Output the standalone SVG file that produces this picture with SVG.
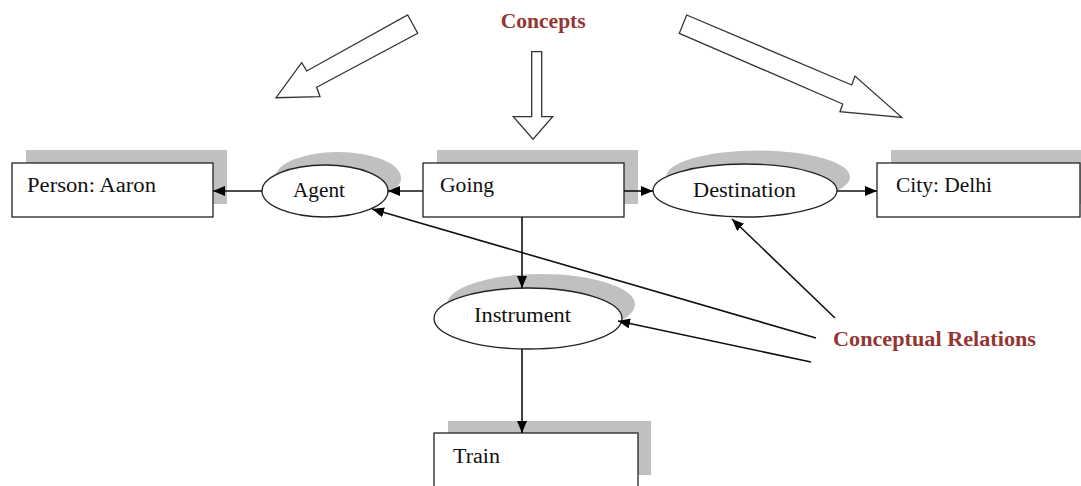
<svg xmlns="http://www.w3.org/2000/svg" width="1081" height="486" viewBox="0 0 1081 486">
<style>
.box{fill:#fff;stroke:#222;stroke-width:1.3}
.shadow{fill:#c0c0c0;stroke:none}
.lbl{font-family:"Liberation Serif","Times New Roman",serif;font-size:20px;fill:#111}
.title{font-family:"Liberation Serif","Times New Roman",serif;font-size:20px;font-weight:bold;fill:#943634}
.edge{stroke:#111;stroke-width:1.6;fill:none}
.block{fill:#fff;stroke:#333;stroke-width:1.3;stroke-linejoin:miter}
</style>
<defs>
<marker id="ah" markerUnits="userSpaceOnUse" markerWidth="12" markerHeight="10" refX="12" refY="5" orient="auto">
<path d="M0,0 L12,5 L0,10 z" fill="#000"/>
</marker>
</defs>
<rect width="1081" height="486" fill="#fff"/>

<g id="block-arrows">
<polygon class="block" points="407.7,15 417.7,33.3 316.7,87.3 320,96.7 276,97.7 301.7,62.7 306.7,71"/>
<polygon class="block" points="531.7,51.7 541.7,51.7 541.7,116.7 552.7,116.7 533,139.3 513.3,116.7 531.7,116.7"/>
<polygon class="block" points="686.7,15 851.7,85 855,76 901.7,117.3 840,111.7 842.7,104 679.3,33.3"/>
</g>

<g id="concepts-label"><text class="title" x="500.7" y="28" textLength="85" lengthAdjust="spacingAndGlyphs">Concepts</text></g>
<g id="relations-label"><text class="title" x="833" y="346" textLength="203" lengthAdjust="spacingAndGlyphs">Conceptual Relations</text></g>

<g id="person">
<rect class="shadow" x="26" y="150" width="201" height="54"/>
<rect class="box" x="12" y="163" width="201" height="54"/>
<text class="lbl" x="27" y="192" textLength="129" lengthAdjust="spacingAndGlyphs">Person: Aaron</text>
</g>

<g id="agent">
<ellipse class="shadow" cx="338" cy="178" rx="63" ry="26"/>
<ellipse class="box" cx="325" cy="191" rx="63" ry="26"/>
<text class="lbl" x="293" y="197" textLength="52" lengthAdjust="spacingAndGlyphs">Agent</text>
</g>

<g id="going">
<rect class="shadow" x="437" y="150" width="201" height="54"/>
<rect class="box" x="423" y="163" width="201" height="54"/>
<text class="lbl" x="440" y="192" textLength="54" lengthAdjust="spacingAndGlyphs">Going</text>
</g>

<g id="destination">
<ellipse class="shadow" cx="758" cy="177" rx="92" ry="26.5"/>
<ellipse class="box" cx="745" cy="190.5" rx="92" ry="26.5"/>
<text class="lbl" x="693" y="197" textLength="103" lengthAdjust="spacingAndGlyphs">Destination</text>
</g>

<g id="city">
<rect class="shadow" x="891" y="150" width="201" height="54"/>
<rect class="box" x="877" y="163" width="203" height="54"/>
<text class="lbl" x="896" y="192" textLength="96" lengthAdjust="spacingAndGlyphs">City: Delhi</text>
</g>

<g id="instrument">
<ellipse class="shadow" cx="541" cy="304.5" rx="94" ry="30.5"/>
<ellipse class="box" cx="528" cy="318.5" rx="94" ry="30.5"/>
<text class="lbl" x="474" y="322" textLength="97" lengthAdjust="spacingAndGlyphs">Instrument</text>
</g>

<g id="train">
<rect class="shadow" x="448" y="421" width="203" height="54"/>
<rect class="box" x="434" y="433" width="204" height="54"/>
<text class="lbl" x="453" y="463" textLength="47" lengthAdjust="spacingAndGlyphs">Train</text>
</g>

<g id="connectors">
<path class="edge" d="M262,191 L213,191" marker-end="url(#ah)"/>
<path class="edge" d="M423,191 L388,191" marker-end="url(#ah)"/>
<path class="edge" d="M624,191 L653,191" marker-end="url(#ah)"/>
<path class="edge" d="M837,191 L877,191" marker-end="url(#ah)"/>
<path class="edge" d="M522,217 L522,288" marker-end="url(#ah)"/>
<path class="edge" d="M522,349 L522,433" marker-end="url(#ah)"/>
<path class="edge" d="M816,338 L372,209" marker-end="url(#ah)"/>
<path class="edge" d="M811,362 L618,321" marker-end="url(#ah)"/>
<path class="edge" d="M835,318 L732,219" marker-end="url(#ah)"/>
</g>
</svg>
